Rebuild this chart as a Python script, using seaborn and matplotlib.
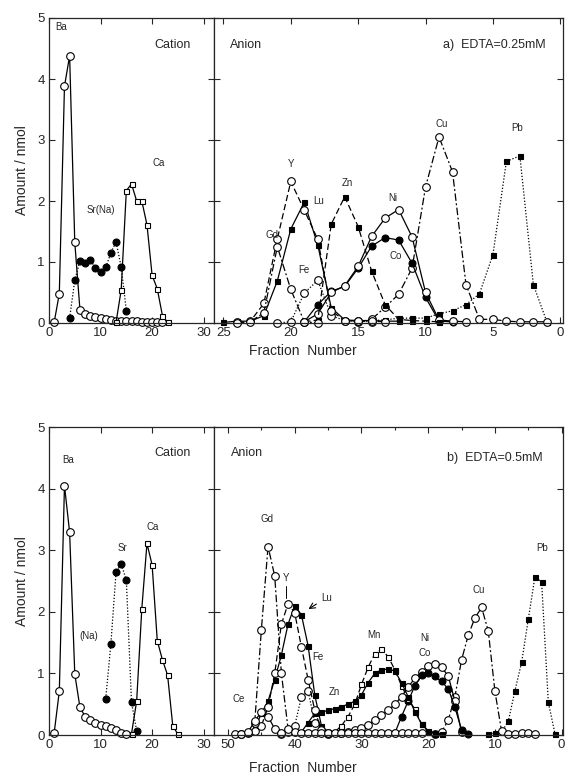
import matplotlib
matplotlib.use("Agg")
import matplotlib.pyplot as plt
import seaborn as sns

# ----------------------------------------------------------------------
# Data: fraction number vs amount / nmol
# ----------------------------------------------------------------------
# a) EDTA = 0.25 mM, cation column
ba_a_x = [1, 2, 3, 4, 5, 6, 7, 8, 9, 10, 11, 12, 13, 14, 15, 16, 17, 18, 19, 20, 21, 22]
ba_a_y = [0.01, 0.48, 3.88, 4.38, 1.32, 0.22, 0.15, 0.12, 0.10, 0.08, 0.06, 0.05, 0.04,
          0.04, 0.03, 0.03, 0.03, 0.02, 0.02, 0.02, 0.02, 0.02]
sr_a_x = [4, 5, 6, 7, 8, 9, 10, 11, 12, 13, 14, 15]
sr_a_y = [0.08, 0.70, 1.02, 0.98, 1.04, 0.90, 0.84, 0.91, 1.15, 1.33, 0.92, 0.20]
ca_a_x = [13, 14, 15, 16, 17, 18, 19, 20, 21, 22, 23]
ca_a_y = [0.01, 0.54, 2.17, 2.28, 2.00, 2.00, 1.61, 0.78, 0.56, 0.12, 0.01]

# a) anion column
gd_a_x = [24, 23, 22, 21, 20, 19, 18]
gd_a_y = [0.00, 0.02, 0.17, 1.25, 0.55, 0.02, 0.00]
y_a_x = [24, 23, 22, 21, 20, 19, 18, 17, 16, 15, 14, 13]
y_a_y = [0.01, 0.03, 0.32, 1.38, 2.32, 1.85, 1.37, 0.20, 0.04, 0.03, 0.03, 0.02]
lu_a_x = [25, 24, 23, 22, 21, 20, 19, 18, 17, 16, 15, 14, 13, 12]
lu_a_y = [0.01, 0.03, 0.03, 0.12, 0.69, 1.54, 1.98, 1.28, 0.25, 0.05, 0.04, 0.04, 0.03, 0.03]
fe_a_x = [21, 20, 19, 18, 17, 16, 15, 14]
fe_a_y = [0.00, 0.02, 0.49, 0.70, 0.12, 0.04, 0.03, 0.02]
zn_a_x = [19, 18, 17, 16, 15, 14, 13, 12, 11, 10, 9]
zn_a_y = [0.02, 0.05, 1.62, 2.07, 1.58, 0.85, 0.30, 0.06, 0.04, 0.03, 0.02]
ni_a_x = [19, 18, 17, 16, 15, 14, 13, 12, 11, 10, 9, 8, 7]
ni_a_y = [0.02, 0.15, 0.50, 0.61, 0.93, 1.42, 1.72, 1.86, 1.41, 0.50, 0.05, 0.03, 0.02]
co_a_x = [19, 18, 17, 16, 15, 14, 13, 12, 11, 10, 9, 8]
co_a_y = [0.02, 0.30, 0.52, 0.60, 0.90, 1.26, 1.40, 1.36, 0.98, 0.42, 0.03, 0.02]
cu_a_x = [15, 14, 13, 12, 11, 10, 9, 8, 7, 6, 5, 4, 3, 2, 1]
cu_a_y = [0.02, 0.06, 0.26, 0.47, 0.90, 2.23, 3.05, 2.48, 0.63, 0.06, 0.06, 0.03, 0.02, 0.02, 0.02]
pb_a_x = [14, 13, 12, 11, 10, 9, 8, 7, 6, 5, 4, 3, 2, 1]
pb_a_y = [0.04, 0.05, 0.08, 0.08, 0.08, 0.15, 0.20, 0.30, 0.48, 1.12, 2.65, 2.74, 0.63, 0.02]

# b) EDTA = 0.5 mM, cation column
ba_b_x = [1, 2, 3, 4, 5, 6, 7, 8, 9, 10, 11, 12, 13, 14, 15]
ba_b_y = [0.03, 0.71, 4.05, 3.29, 0.99, 0.45, 0.30, 0.24, 0.19, 0.16, 0.15, 0.11, 0.08, 0.04, 0.01]
sr_b_x = [11, 12, 13, 14, 15, 16, 17]
sr_b_y = [0.59, 1.48, 2.64, 2.78, 2.51, 0.53, 0.07]
ca_b_x = [16, 17, 18, 19, 20, 21, 22, 23, 24, 25]
ca_b_y = [0.02, 0.55, 2.05, 3.11, 2.76, 1.53, 1.22, 0.97, 0.15, 0.01]

# b) anion column
ce_b_x = [49, 48, 47, 46, 45, 44, 43, 42]
ce_b_y = [0.01, 0.02, 0.05, 0.22, 0.38, 0.30, 0.10, 0.03]
gd_b_x = [48, 47, 46, 45, 44, 43, 42, 41, 40, 39, 38, 37, 36, 35, 34, 33, 32, 31, 30,
          29, 28, 27, 26, 25, 24, 23, 22, 21]
gd_b_y = [0.02, 0.04, 0.20, 1.71, 3.06, 2.58, 1.00, 0.10, 0.05, 0.04, 0.04, 0.03, 0.03,
          0.03, 0.03, 0.03, 0.03, 0.03, 0.03, 0.03, 0.03, 0.03, 0.03, 0.03, 0.03, 0.03, 0.03, 0.03]
y_b_x = [46, 45, 44, 43, 42, 41, 40, 39, 38, 37, 36, 35]
y_b_y = [0.06, 0.15, 0.45, 1.00, 1.80, 2.13, 1.98, 1.43, 0.90, 0.40, 0.08, 0.03]
lu_b_x = [47, 46, 45, 44, 43, 42, 41, 40, 39, 38, 37, 36, 35]
lu_b_y = [0.03, 0.10, 0.35, 0.55, 0.90, 1.30, 1.80, 2.10, 1.95, 1.45, 0.65, 0.15, 0.05]
fe_b_x = [42, 41, 40, 39, 38, 37, 36, 35]
fe_b_y = [0.02, 0.05, 0.15, 0.62, 0.72, 0.20, 0.05, 0.02]
zn_b_x = [39, 38, 37, 36, 35, 34, 33, 32, 31, 30, 29, 28, 27, 26, 25, 24, 23, 22, 21, 20, 19, 18]
zn_b_y = [0.05, 0.20, 0.35, 0.37, 0.40, 0.43, 0.46, 0.50, 0.55, 0.65, 0.85, 1.00, 1.06,
          1.07, 1.04, 0.85, 0.62, 0.38, 0.18, 0.07, 0.03, 0.02]
mn_b_x = [34, 33, 32, 31, 30, 29, 28, 27, 26, 25, 24, 23, 22, 21, 20, 19]
mn_b_y = [0.05, 0.15, 0.30, 0.50, 0.82, 1.10, 1.32, 1.39, 1.27, 1.06, 0.80, 0.58, 0.42, 0.18, 0.05, 0.02]
ni_b_x = [33, 32, 31, 30, 29, 28, 27, 26, 25, 24, 23, 22, 21, 20, 19, 18, 17, 16, 15]
ni_b_y = [0.03, 0.05, 0.08, 0.12, 0.17, 0.24, 0.32, 0.40, 0.50, 0.62, 0.78, 0.92, 1.02,
          1.12, 1.15, 1.10, 0.96, 0.55, 0.05]
co_b_x = [25, 24, 23, 22, 21, 20, 19, 18, 17, 16, 15, 14]
co_b_y = [0.03, 0.30, 0.55, 0.80, 0.97, 1.00, 0.95, 0.87, 0.75, 0.45, 0.08, 0.02]
cu_b_x = [19, 18, 17, 16, 15, 14, 13, 12, 11, 10, 9, 8, 7, 6, 5, 4]
cu_b_y = [0.02, 0.05, 0.24, 0.62, 1.22, 1.62, 1.90, 2.07, 1.69, 0.71, 0.06, 0.02, 0.02, 0.03, 0.03, 0.02]
pb_b_x = [11, 10, 9, 8, 7, 6, 5, 4, 3, 2, 1]
pb_b_y = [0.02, 0.03, 0.05, 0.22, 0.72, 1.18, 1.88, 2.57, 2.48, 0.53, 0.02]

# ----------------------------------------------------------------------
# Style
# ----------------------------------------------------------------------
sns.set_style("ticks")
plt.rcParams["font.family"] = ["Liberation Sans", "DejaVu Sans"]
plt.rcParams["xtick.direction"] = "in"
plt.rcParams["ytick.direction"] = "in"

SOLID = "-"
DASH = (0, (5, 2.5))
DOT = (0, (1, 1.5))
DASHDOT = (0, (6, 2, 1.5, 2))

OPEN_C = dict(marker="o", markersize=5.5, markerfacecolor="white")
FILL_C = dict(marker="o", markersize=5.0, markerfacecolor="black")
OPEN_S = dict(marker="s", markersize=3.6, markerfacecolor="white")
FILL_S = dict(marker="s", markersize=3.6, markerfacecolor="black")


def curve(ax, x, y, ls, mk):
    sns.lineplot(x=x, y=y, ax=ax, color="black", linestyle=ls, linewidth=0.9,
                 markeredgecolor="black", markeredgewidth=0.8, sort=False,
                 estimator=None, clip_on=False, legend=False, **mk)


def frame(ax, xlim, xticks, ylab):
    ax.set_xlim(*xlim)
    ax.set_ylim(0, 5)
    ax.set_xticks(xticks)
    ax.set_yticks([0, 1, 2, 3, 4, 5])
    ax.tick_params(top=True, right=True, length=4, width=0.8, labelsize=9.5, pad=3)
    for s in ax.spines.values():
        s.set_linewidth(0.9)
    if ylab:
        ax.set_ylabel("Amount / nmol", fontsize=10, labelpad=6)
    else:
        ax.tick_params(labelleft=False)
        ax.set_ylabel("")
    ax.set_xlabel("")


def label(ax, x, y, s, size=7, ha="center"):
    ax.text(x, y, s, fontsize=size, ha=ha, va="center")


fig = plt.figure(figsize=(5.68, 7.79), dpi=100)

L, M, R = 49 / 568, 214 / 568, 563 / 568
rows = [(1 - 323 / 779, 305 / 779), (1 - 735 / 779, 308 / 779)]

# ---------------------------- row a -----------------------------------
b0, h0 = rows[0]
ax1 = fig.add_axes([L, b0, M - L, h0])
ax2 = fig.add_axes([M, b0, R - M, h0])

curve(ax1, ba_a_x, ba_a_y, SOLID, OPEN_C)
curve(ax1, sr_a_x, sr_a_y, DOT, FILL_C)
curve(ax1, ca_a_x, ca_a_y, SOLID, OPEN_S)
frame(ax1, (0, 32), [0, 10, 20, 30], True)
label(ax1, 2.4, 4.85, "Ba")
label(ax1, 24, 4.55, "Cation", size=9)
label(ax1, 10, 1.85, "Sr(Na)")
label(ax1, 21.2, 2.62, "Ca")

curve(ax2, pb_a_x, pb_a_y, DOT, FILL_S)
curve(ax2, cu_a_x, cu_a_y, DASHDOT, OPEN_C)
curve(ax2, co_a_x, co_a_y, SOLID, FILL_C)
curve(ax2, ni_a_x, ni_a_y, SOLID, OPEN_C)
curve(ax2, zn_a_x, zn_a_y, DASH, FILL_S)
curve(ax2, fe_a_x, fe_a_y, DOT, OPEN_C)
curve(ax2, lu_a_x, lu_a_y, SOLID, FILL_S)
curve(ax2, y_a_x, y_a_y, DASH, OPEN_C)
curve(ax2, gd_a_x, gd_a_y, DASHDOT, OPEN_C)
frame(ax2, (25.7, -0.2), [25, 20, 15, 10, 5, 0], False)
label(ax2, 24.5, 4.55, "Anion", size=9, ha="left")
label(ax2, 1.1, 4.55, "a)  EDTA=0.25mM", size=9, ha="right")
label(ax2, 21.4, 1.45, "Gd")
label(ax2, 20.0, 2.6, "Y")
label(ax2, 17.95, 2.0, "Lu")
label(ax2, 19.0, 0.87, "Fe")
label(ax2, 15.8, 2.3, "Zn")
label(ax2, 12.4, 2.05, "Ni")
label(ax2, 12.2, 1.1, "Co")
label(ax2, 8.8, 3.27, "Cu")
label(ax2, 3.2, 3.19, "Pb")

# ---------------------------- row b -----------------------------------
b1, h1 = rows[1]
ax3 = fig.add_axes([L, b1, M - L, h1])
ax4 = fig.add_axes([M, b1, R - M, h1])

curve(ax3, ba_b_x, ba_b_y, SOLID, OPEN_C)
curve(ax3, sr_b_x, sr_b_y, DOT, FILL_C)
curve(ax3, ca_b_x, ca_b_y, SOLID, OPEN_S)
frame(ax3, (0, 32), [0, 10, 20, 30], True)
label(ax3, 3.7, 4.46, "Ba")
label(ax3, 24, 4.57, "Cation", size=9)
label(ax3, 7.8, 1.6, "(Na)")
label(ax3, 14.3, 3.04, "Sr")
label(ax3, 20.1, 3.38, "Ca")

curve(ax4, pb_b_x, pb_b_y, DOT, FILL_S)
curve(ax4, cu_b_x, cu_b_y, DASHDOT, OPEN_C)
curve(ax4, ni_b_x, ni_b_y, SOLID, OPEN_C)
curve(ax4, co_b_x, co_b_y, SOLID, FILL_C)
curve(ax4, mn_b_x, mn_b_y, DASH, OPEN_S)
curve(ax4, zn_b_x, zn_b_y, SOLID, FILL_S)
curve(ax4, fe_b_x, fe_b_y, DOT, OPEN_C)
curve(ax4, lu_b_x, lu_b_y, SOLID, FILL_S)
curve(ax4, y_b_x, y_b_y, DASH, OPEN_C)
curve(ax4, gd_b_x, gd_b_y, DASHDOT, OPEN_C)
curve(ax4, ce_b_x, ce_b_y, SOLID, OPEN_C)
frame(ax4, (52.1, -0.2), [50, 40, 30, 20, 10, 0], False)
ax4.set_xticks([45, 35, 25, 15, 5], minor=True)
ax4.tick_params(which="minor", direction="in", top=True, length=2.5, width=0.8)
label(ax4, 49.5, 4.57, "Anion", size=9, ha="left")
label(ax4, 2.8, 4.5, "b)  EDTA=0.5mM", size=9, ha="right")
label(ax4, 44.2, 3.5, "Gd")
label(ax4, 41.3, 2.55, "Y")
ax4.plot([41.3, 41.3], [2.42, 2.22], color="black", lw=0.7)
label(ax4, 35.2, 2.23, "Lu")
ax4.annotate("", xy=(38.3, 2.02), xytext=(36.4, 2.15),
             arrowprops=dict(arrowstyle="->", lw=0.8, color="black"))
label(ax4, 36.5, 1.27, "Fe")
label(ax4, 48.4, 0.59, "Ce")
label(ax4, 34.1, 0.7, "Zn")
label(ax4, 28.2, 1.63, "Mn")
label(ax4, 20.5, 1.57, "Ni")
label(ax4, 20.5, 1.33, "Co")
label(ax4, 12.5, 2.36, "Cu")
label(ax4, 3.0, 3.04, "Pb")

fig.text(303 / 568, 1 - 351 / 779, "Fraction  Number", ha="center", va="center", fontsize=10)
fig.text(303 / 568, 1 - 768 / 779, "Fraction  Number", ha="center", va="center", fontsize=10)

fig.savefig("out.png", dpi=100)
